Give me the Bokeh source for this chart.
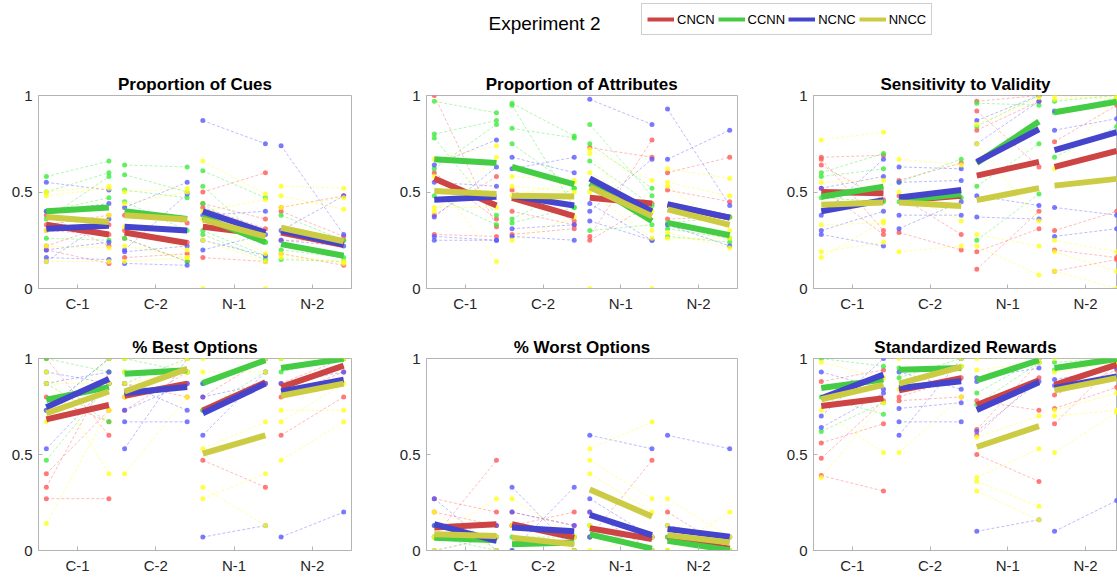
from bokeh.plotting import figure
from bokeh.layouts import column, row
from bokeh.models import Range1d, FixedTicker, Legend, LegendItem, Label, ColumnDataSource
from bokeh.embed import file_html
from bokeh.resources import INLINE

groups = ["CNCN", "CCNN", "NCNC", "NNCC"]
blocks = ["C-1", "C-2", "N-1", "N-2"]
block_pos = [1, 2, 3, 4]
y_ticks = [0, 0.5, 1]
y_tick_labels = ["0", "0.5", "1"]
mean_colors = ["#CC4444", "#44CC44", "#4444CC", "#CCCC44"]
dot_colors = ["#FF5A5A", "#3DEB3D", "#5A5AFF", "#FFFF1E"]

# ---------------- Proportion of Cues ----------------
cues_start = {"CNCN": [0.33, 0.29, 0.32, 0.29], "CCNN": [0.40, 0.40, 0.37, 0.23],
              "NCNC": [0.31, 0.32, 0.40, 0.30], "NNCC": [0.37, 0.38, 0.357, 0.315]}
cues_end = {"CNCN": [0.28, 0.236, 0.28, 0.225], "CCNN": [0.42, 0.36, 0.24, 0.17],
            "NCNC": [0.325, 0.30, 0.29, 0.228], "NNCC": [0.345, 0.357, 0.27, 0.245]}
cues_ind = {
    "CNCN": [[(0.33, 0.38), (0.30, 0.28), (0.22, 0.33), (0.20, 0.13), (0.38, 0.22)],
             [(0.38, 0.34), (0.30, 0.24), (0.16, 0.18), (0.26, 0.14)],
             [(0.50, 0.60), (0.44, 0.36), (0.42, 0.31), (0.16, 0.14)],
             [(0.42, 0.48), (0.40, 0.27), (0.25, 0.25), (0.18, 0.12)]],
    "CCNN": [[(0.58, 0.66), (0.50, 0.60), (0.40, 0.47), (0.36, 0.58), (0.26, 0.25)],
             [(0.64, 0.63), (0.59, 0.50), (0.51, 0.47), (0.45, 0.30), (0.26, 0.14)],
             [(0.61, 0.47), (0.53, 0.24), (0.44, 0.24), (0.30, 0.17), (0.28, 0.15)],
             [(0.38, 0.25), (0.20, 0.16), (0.15, 0.14)]],
    "NCNC": [[(0.55, 0.51), (0.40, 0.44), (0.20, 0.24), (0.16, 0.15), (0.14, 0.36)],
             [(0.42, 0.55), (0.20, 0.49), (0.19, 0.22), (0.13, 0.12)],
             [(0.87, 0.75), (0.38, 0.40), (0.25, 0.17), (0.20, 0.28)],
             [(0.74, 0.28), (0.30, 0.48), (0.25, 0.22)]],
    "NNCC": [[(0.50, 0.53), (0.48, 0.52), (0.30, 0.38), (0.22, 0.21), (0.14, 0.14)],
             [(0.50, 0.52), (0.44, 0.50), (0.32, 0.20), (0.22, 0.16), (0.14, 0.16)],
             [(0.66, 0.49), (0.40, 0.46), (0.36, 0.18), (0.25, 0.14), (0.0, 0.0)],
             [(0.53, 0.52), (0.48, 0.41), (0.42, 0.47), (0.18, 0.13), (0.16, 0.14)]],
}

# ---------------- Proportion of Attributes ----------------
attr_start = {"CNCN": [0.57, 0.47, 0.47, 0.433], "CCNN": [0.67, 0.63, 0.545, 0.34],
              "NCNC": [0.46, 0.48, 0.57, 0.437], "NNCC": [0.505, 0.48, 0.525, 0.41]}
attr_end = {"CNCN": [0.43, 0.375, 0.44, 0.367], "CCNN": [0.65, 0.54, 0.35, 0.276],
            "NCNC": [0.475, 0.43, 0.40, 0.367], "NNCC": [0.49, 0.477, 0.375, 0.33]}
attr_ind = {
    "CNCN": [[(1.0, 0.32), (0.38, 0.58), (0.28, 0.27), (0.60, 0.36)],
             [(0.51, 0.35), (0.28, 0.31), (0.40, 0.33)],
             [(0.73, 0.68), (0.27, 0.77), (0.25, 0.44)],
             [(0.60, 0.68), (0.51, 0.45), (0.36, 0.37)]],
    "CCNN": [[(0.97, 0.91), (0.80, 0.87), (0.78, 0.38), (0.62, 0.85), (0.48, 0.33)],
             [(0.96, 0.79), (0.95, 0.42), (0.83, 0.78), (0.75, 0.52), (0.36, 0.52), (0.34, 0.42)],
             [(0.85, 0.48), (0.75, 0.52), (0.66, 0.43), (0.30, 0.33)],
             [(0.34, 0.37), (0.31, 0.26), (0.27, 0.24)]],
    "NCNC": [[(0.64, 0.77), (0.55, 0.53), (0.37, 0.63), (0.27, 0.25), (0.25, 0.25)],
             [(0.68, 0.60), (0.62, 0.68), (0.31, 0.33), (0.27, 0.25)],
             [(0.98, 0.85), (0.44, 0.25), (0.40, 0.67), (0.35, 0.25)],
             [(0.93, 0.43), (0.67, 0.82), (0.33, 0.22)]],
    "NNCC": [[(0.67, 0.74), (0.58, 0.14), (0.42, 0.42), (0.40, 0.68)],
             [(0.58, 0.56), (0.53, 0.50), (0.48, 0.55), (0.25, 0.37)],
             [(0.72, 0.56), (0.70, 0.30), (0.60, 0.40), (0.50, 0.26), (0.0, 0.0)],
             [(0.62, 0.57), (0.55, 0.48), (0.53, 0.30), (0.29, 0.21), (0.26, 0.26)]],
}

# ---------------- Sensitivity to Validity ----------------
sens_start = {"CNCN": [0.50, 0.455, 0.585, 0.63], "CCNN": [0.475, 0.455, 0.65, 0.913],
              "NCNC": [0.40, 0.472, 0.656, 0.717], "NNCC": [0.434, 0.446, 0.458, 0.533]}
sens_end = {"CNCN": [0.493, 0.48, 0.656, 0.713], "CCNN": [0.528, 0.49, 0.865, 0.968],
            "NCNC": [0.458, 0.51, 0.825, 0.81], "NNCC": [0.446, 0.428, 0.52, 0.568]}
sens_ind = {
    "CNCN": [[(0.68, 0.69), (0.67, 0.30), (0.64, 0.46), (0.52, 0.28)],
             [(0.56, 0.65), (0.48, 0.28), (0.29, 0.20)],
             [(0.97, 1.0), (0.92, 0.63), (0.82, 0.97), (0.19, 0.31), (0.10, 0.40)],
             [(0.76, 0.95), (0.30, 0.40), (0.20, 0.16), (0.09, 0.15)]],
    "CCNN": [[(0.60, 0.70), (0.58, 0.62), (0.47, 0.45)],
             [(0.55, 0.67), (0.45, 0.47)],
             [(0.96, 0.95), (0.84, 1.0), (0.53, 0.75), (0.25, 0.49)],
             [(0.97, 1.0), (0.68, 0.84), (0.91, 0.99)]],
    "NCNC": [[(0.52, 0.58), (0.38, 0.67), (0.30, 0.40), (0.28, 0.22)],
             [(0.63, 0.62), (0.55, 0.56), (0.38, 0.38), (0.31, 0.45)],
             [(0.87, 1.0), (0.75, 0.97), (0.48, 0.43), (0.37, 0.36)],
             [(0.92, 0.97), (0.82, 0.88), (0.42, 0.38), (0.27, 0.31)]],
    "NNCC": [[(0.77, 0.81), (0.55, 0.56), (0.33, 0.34), (0.19, 0.24), (0.16, 0.35)],
             [(0.67, 0.64), (0.50, 0.35), (0.19, 0.22)],
             [(0.85, 0.99), (0.75, 0.35), (0.28, 0.22), (0.22, 0.07)],
             [(1.0, 0.98), (0.98, 1.0), (0.62, 0.99), (0.25, 0.19), (0.19, 0.09), (0.09, 0.0)]],
}

# ---------------- % Best Options ----------------
best_start = {"CNCN": [0.683, 0.806, 0.729, 0.851], "CCNN": [0.785, 0.921, 0.872, 0.951],
              "NCNC": [0.746, 0.82, 0.715, 0.828], "NNCC": [0.715, 0.828, 0.504, 0.806]}
best_end = {"CNCN": [0.758, 0.869, 0.876, 0.963], "CCNN": [0.851, 0.939, 0.991, 0.998],
            "NCNC": [0.893, 0.851, 0.869, 0.89], "NNCC": [0.828, 0.946, 0.60, 0.869]}
best_ind = {
    "CNCN": [[(0.40, 0.73), (0.33, 0.93), (0.27, 0.27), (1.0, 0.60), (0.80, 0.67)],
             [(0.80, 0.87), (0.87, 0.80), (0.73, 0.93)],
             [(0.47, 0.33), (0.73, 0.87), (0.80, 1.0)],
             [(0.80, 0.93), (0.60, 0.80), (0.87, 1.0)]],
    "CCNN": [[(1.0, 0.93), (0.47, 0.87), (0.87, 0.67), (0.73, 1.0)],
             [(0.93, 0.93), (0.87, 1.0), (1.0, 0.93)],
             [(0.87, 1.0), (0.73, 0.93)],
             [(0.93, 1.0), (1.0, 1.0)]],
    "NCNC": [[(0.73, 1.0), (0.53, 0.87), (0.93, 0.87), (0.87, 0.93)],
             [(0.87, 0.73), (0.73, 0.87), (0.67, 0.67), (0.53, 1.0)],
             [(0.87, 1.0), (0.80, 0.87), (0.60, 0.93), (0.07, 0.13)],
             [(0.87, 0.93), (0.07, 0.20)]],
    "NNCC": [[(0.93, 0.40), (0.87, 0.87), (0.67, 1.0), (0.14, 0.73)],
             [(1.0, 1.0), (0.93, 0.93), (0.87, 0.93), (0.40, 0.80), (0.80, 1.0)],
             [(1.0, 1.0), (0.93, 0.93), (0.53, 0.67), (0.33, 0.13), (0.27, 0.40)],
             [(1.0, 1.0), (0.73, 0.73), (0.67, 0.87), (0.47, 0.67)]],
}

# ---------------- % Worst Options ----------------
worst_start = {"CNCN": [0.12, 0.137, 0.116, 0.067], "CCNN": [0.067, 0.032, 0.084, 0.05],
               "NCNC": [0.137, 0.12, 0.186, 0.112], "NNCC": [0.084, 0.067, 0.318, 0.08]}
worst_end = {"CNCN": [0.137, 0.067, 0.06, 0.01], "CCNN": [0.054, 0.042, 0.01, 0.002],
             "NCNC": [0.05, 0.10, 0.08, 0.072], "NNCC": [0.075, 0.032, 0.177, 0.042]}
worst_ind = {
    "CNCN": [[(0.27, 0.20), (0.07, 0.47), (0.20, 0.13)],
             [(0.20, 0.13), (0.13, 0.07), (0.13, 0.20)],
             [(0.07, 0.47), (0.20, 0.07)],
             [(0.20, 0.0), (0.07, 0.07)]],
    "CCNN": [[(0.13, 0.07), (0.07, 0.0)],
             [(0.07, 0.07), (0.0, 0.0)],
             [(0.13, 0.0), (0.07, 0.0)],
             [(0.07, 0.0), (0.0, 0.0)]],
    "NCNC": [[(0.27, 0.0), (0.13, 0.13), (0.0, 0.07)],
             [(0.33, 0.0), (0.20, 0.13), (0.0, 0.33)],
             [(0.60, 0.53), (0.27, 0.07), (0.20, 0.0), (0.07, 0.07)],
             [(0.60, 0.53), (0.13, 0.07)]],
    "NNCC": [[(0.20, 0.0), (0.07, 0.27), (0.0, 0.07)],
             [(0.27, 0.07), (0.13, 0.0)],
             [(0.53, 0.67), (0.47, 0.27), (0.40, 0.20), (0.13, 0.0), (0.0, 0.07)],
             [(0.27, 0.07), (0.13, 0.0), (0.0, 0.20)]],
}

# ---------------- Standardized Rewards ----------------
rew_start = {"CNCN": [0.753, 0.834, 0.758, 0.863], "CCNN": [0.846, 0.942, 0.886, 0.951],
             "NCNC": [0.793, 0.846, 0.732, 0.846], "NNCC": [0.788, 0.869, 0.539, 0.834]}
rew_end = {"CNCN": [0.793, 0.898, 0.886, 0.968], "CCNN": [0.89, 0.951, 0.991, 0.998],
           "NCNC": [0.916, 0.881, 0.876, 0.907], "NNCC": [0.863, 0.956, 0.648, 0.898]}
rew_ind = {
    "CNCN": [[(0.88, 0.94), (0.56, 0.66), (0.48, 0.78), (0.39, 0.31)],
             [(0.78, 0.80), (0.80, 0.90)],
             [(0.78, 0.73), (0.63, 0.98), (0.60, 0.90), (0.50, 0.36)],
             [(0.81, 0.94), (0.74, 0.85), (0.66, 0.98)]],
    "CCNN": [[(1.0, 0.96), (0.80, 0.71), (0.62, 0.77)],
             [(0.95, 0.96), (0.90, 1.0)],
             [(0.82, 1.0), (0.76, 0.98)],
             [(0.94, 1.0), (0.98, 1.0)]],
    "NCNC": [[(0.93, 0.84), (0.70, 1.0), (0.64, 0.82)],
             [(0.93, 0.84), (0.74, 0.77), (0.67, 0.67), (0.60, 1.0)],
             [(0.90, 0.95), (0.88, 1.0), (0.62, 0.88), (0.10, 0.16)],
             [(0.89, 0.95), (0.86, 0.90), (0.10, 0.26)]],
    "NNCC": [[(0.98, 0.90), (0.73, 0.51), (0.38, 0.77)],
             [(1.0, 1.0), (0.84, 0.96), (0.51, 0.80)],
             [(1.0, 1.0), (0.94, 0.98), (0.59, 0.70), (0.38, 0.53), (0.36, 0.23), (0.31, 0.16)],
             [(1.0, 1.0), (0.93, 0.98), (0.73, 0.82), (0.70, 0.73), (0.51, 0.72)]],
}

panel_titles = ["Proportion of Cues", "Proportion of Attributes", "Sensitivity to Validity",
                "% Best Options", "% Worst Options", "Standardized Rewards"]
panel_data = [(cues_start, cues_end, cues_ind), (attr_start, attr_end, attr_ind),
              (sens_start, sens_end, sens_ind), (best_start, best_end, best_ind),
              (worst_start, worst_end, worst_ind), (rew_start, rew_end, rew_ind)]

# layout geometry (pixels)
COL_W = [388, 387, 342]
COL_LB = [38, 38, 38]
COL_RB = [37, 38, 0]
COL_XEND = [4.5, 4.5, 4.41]
ROW_H = [260, 260]
ROW_TB = [35, 38]
ROW_BB = [32, 30]
HALF = 0.4
AX_GRAY = "#B4B4B4"
TXT = "#262626"


def make_panel(idx):
    r, c = divmod(idx, 3)
    start, end, ind = panel_data[idx]
    p = figure(width=COL_W[c], height=ROW_H[r],
               x_range=Range1d(0.5, COL_XEND[c]), y_range=Range1d(0, 1),
               output_backend="svg", toolbar_location=None,
               min_border_left=COL_LB[c], min_border_right=COL_RB[c],
               min_border_top=ROW_TB[r], min_border_bottom=ROW_BB[r],
               title=panel_titles[idx])
    p.title.align = "center"
    p.title.text_font = "Liberation Sans"
    p.title.text_font_size = "17px"
    p.title.text_font_style = "bold"
    p.title.text_color = "#000000"
    p.title.standoff = 4
    if c == 2:
        p.title.offset = 3
    p.grid.visible = False
    p.outline_line_color = AX_GRAY
    p.background_fill_color = "white"
    p.border_fill_color = "white"

    for ax in (p.xaxis[0], p.yaxis[0]):
        ax.axis_line_color = AX_GRAY
        ax.major_tick_line_color = AX_GRAY
        ax.major_tick_in = 4
        ax.major_tick_out = 0
        ax.minor_tick_line_color = None
        ax.major_label_text_font = "Liberation Sans"
        ax.major_label_text_font_size = "15px"
        ax.major_label_text_color = TXT
    p.xaxis.ticker = FixedTicker(ticks=block_pos)
    p.xaxis.major_label_overrides = {bp: lab for bp, lab in zip(block_pos, blocks)}
    p.xaxis.major_label_standoff = 6
    p.yaxis.ticker = FixedTicker(ticks=y_ticks)
    p.yaxis.major_label_overrides = {t: lab for t, lab in zip(y_ticks, y_tick_labels)}
    p.yaxis.major_label_standoff = 6

    # individual participants
    for gi, g in enumerate(groups):
        xs, ys, px, py = [], [], [], []
        for bi, pairs in enumerate(ind[g]):
            x0 = block_pos[bi] - HALF
            x1 = block_pos[bi] + HALF
            for s, e in pairs:
                xs.append([x0, x1])
                ys.append([s, e])
                px += [x0, x1]
                py += [s, e]
        p.multi_line(xs=xs, ys=ys, line_color=dot_colors[gi], line_alpha=0.45,
                     line_width=0.9, line_dash="3 2")
        p.scatter(x=px, y=py, size=5, fill_color=dot_colors[gi], fill_alpha=0.8,
                  line_color=None)

    # group means
    for gi, g in enumerate(groups):
        xs = [[bp - HALF, bp + HALF] for bp in block_pos]
        ys = [[s, e] for s, e in zip(start[g], end[g])]
        p.multi_line(xs=xs, ys=ys, line_color=mean_colors[gi], line_width=6)
    return p


panels = [make_panel(i) for i in range(6)]

# header with main title and legend
HEAD_W, HEAD_H = 1117, 60
head = figure(width=HEAD_W, height=HEAD_H, x_range=Range1d(0, 1), y_range=Range1d(0, 1),
              output_backend="svg", toolbar_location=None, min_border=0)
head.axis.visible = False
head.grid.visible = False
head.outline_line_color = None
head.add_layout(Label(x=544, y=HEAD_H - 23, x_units="screen", y_units="screen",
                      text="Experiment 2", text_align="center", text_baseline="middle",
                      text_font_size="19px", text_color="#000000",
                      text_font="Liberation Sans"))
items = []
for gi, g in enumerate(groups):
    # legend proxies kept outside the visible range
    src = ColumnDataSource(data=dict(x=[-2, -1], y=[-2, -2]))
    rnd = head.line(x="x", y="y", source=src, line_color=mean_colors[gi], line_width=4)
    items.append(LegendItem(label=g, renderers=[rnd]))
leg = Legend(items=items, orientation="horizontal", location=(641, HEAD_H - 35),
             glyph_width=27, glyph_height=20, label_standoff=3, spacing=3,
             padding=5, margin=0, border_line_color="#A0A0A0", border_line_width=1,
             label_text_font="Liberation Sans",
             label_text_font_size="13px", label_text_color="#000000",
             label_height=20, background_fill_alpha=1.0)
head.add_layout(leg, "center")

layout = column(head, row(*panels[:3]), row(*panels[3:]))

open("out.html", "w").write(file_html(layout, INLINE))
